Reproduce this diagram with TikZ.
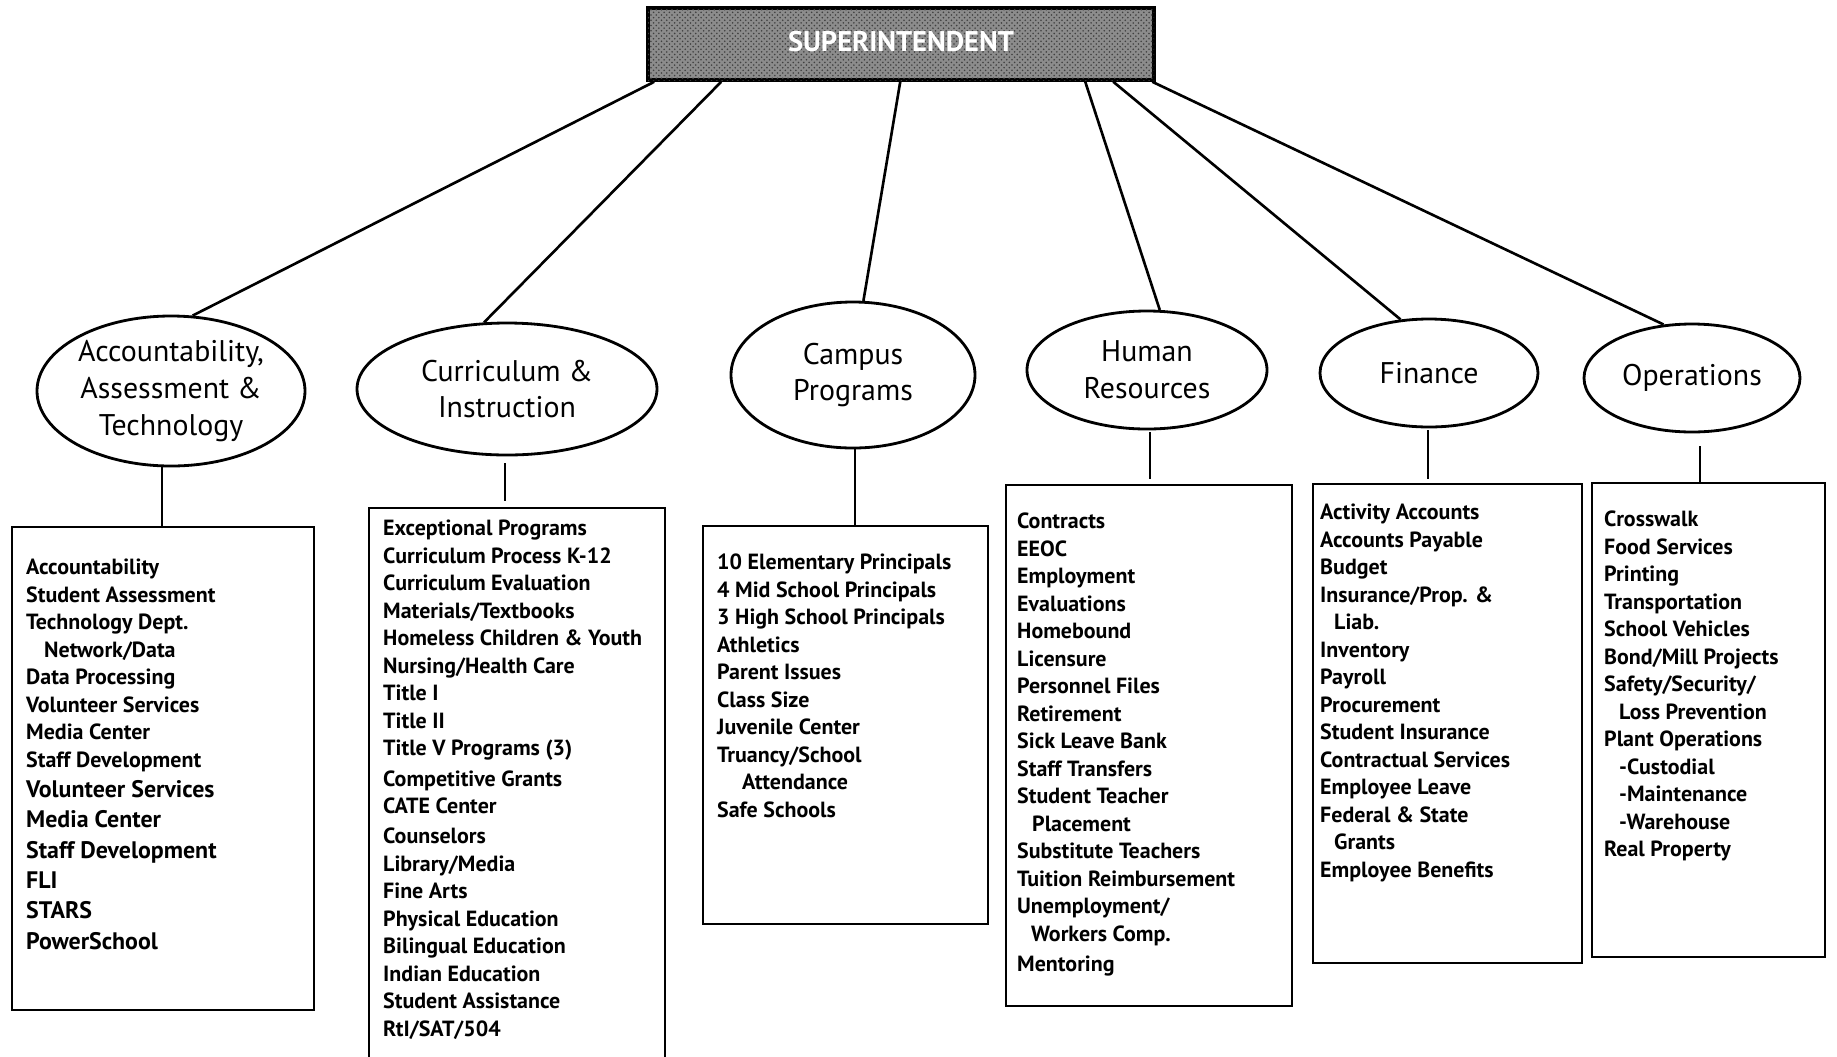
\documentclass[tikz,border=0pt]{standalone}
\usepackage{fontspec}
\setmainfont{PT Sans}
\usetikzlibrary{shapes,calc,positioning,fit,patterns}
\newcommand{\listfont}{\bfseries\fontsize{12.5}{15.65}\selectfont}
\newcommand{\biglist}{\fontsize{13.6}{15.65}\selectfont}
\newcommand{\deptfont}{\fontsize{17}{21}\selectfont}
\newcommand{\headfont}{\bfseries\fontsize{16.2}{18}\selectfont}
\tikzstyle{head}=[rectangle, draw=black, line width=2pt, fill=black!45, postaction={pattern=crosshatch dots, pattern color=black!75}, text=white, font=\headfont]
\tikzstyle{dept}=[ellipse, draw=black, line width=1.6pt, inner sep=0pt, align=center, font=\deptfont]
\tikzstyle{listbox}=[rectangle, draw=black, line width=1.3pt, inner sep=0pt]
\tikzstyle{list text}=[anchor=north west, align=left, inner sep=0pt, font=\listfont]
\tikzstyle{orgedge}=[line width=1.5pt, black]

\begin{document}
\begin{tikzpicture}[x=0.02cm,y=-0.02cm]
\def\px{0.02cm}
\useasboundingbox (0,0) rectangle (1837,1056);

	% Superintendent
    \node[head, minimum width=506*\px, minimum height=72*\px] (Sup) at (901,44) {\raisebox{3pt}{SUPERINTENDENT}};

	% Departments
    \node[dept, minimum width=268*\px, minimum height=150*\px] (D-1) at (171,391) {Accountability,\\Assessment \&\\Technology};
    \node[dept, minimum width=300*\px, minimum height=132*\px] (D-2) at (507,389) {Curriculum \&\\Instruction};
    \node[dept, minimum width=244*\px, minimum height=146*\px] (D-3) at (853,375) {Campus\\Programs};
    \node[dept, minimum width=240*\px, minimum height=118*\px] (D-4) at (1147,370) {Human\\Resources};
    \node[dept, minimum width=218*\px, minimum height=108*\px] (D-5) at (1429,373) {Finance};
    \node[dept, minimum width=216*\px, minimum height=108*\px] (D-6) at (1692,378) {Operations};

	% List boxes
    \node[listbox, fit={(12,527) (314,1010)}] (L-1) {};
    \node[listbox, fit={(369,508) (665,1080)}] (L-2) {};
    \node[listbox, fit={(703,526) (988,924)}] (L-3) {};
    \node[listbox, fit={(1006,485) (1292,1006)}] (L-4) {};
    \node[listbox, fit={(1313,484) (1582,963)}] (L-5) {};
    \node[listbox, fit={(1592,483) (1825,957)}] (L-6) {};

    \node[list text] (T-1) at ($(L-1.north west)+(15,33)$) {Accountability\\Student Assessment\\Technology Dept.\\\hspace*{0.36cm}Network/Data\\Data Processing\\Volunteer Services\\Media Center\\Staff Development\\[1.6pt]
        {\biglist Volunteer Services}\\[1.6pt]{\biglist Media Center}\\[1.6pt]{\biglist Staff Development}\\[1.6pt]{\biglist FLI}\\[1.6pt]{\biglist STARS}\\[1.6pt]{\biglist PowerSchool}};
    \node[list text] (T-2) at ($(L-2.north west)+(15,13)$) {Exceptional Programs\\Curriculum Process K-12\\Curriculum Evaluation\\Materials/Textbooks\\Homeless Children \& Youth\\Nursing/Health Care\\Title I\\Title II\\Title V Programs (3)\\[1.6pt]
        Competitive Grants\\CATE Center\\[1.6pt]Counselors\\Library/Media\\Fine Arts\\Physical Education\\Bilingual Education\\Indian Education\\Student Assistance\\RtI/SAT/504};
    \node[list text] (T-3) at ($(L-3.north west)+(15,29)$) {10 Elementary Principals\\4 Mid School Principals\\3 High School Principals\\Athletics\\Parent Issues\\Class Size\\Juvenile Center\\Truancy/School\\\hspace*{0.5cm}Attendance\\Safe Schools};
    \node[list text] (T-4) at ($(L-4.north west)+(12,29)$) {Contracts\\EEOC\\Employment\\Evaluations\\Homebound\\Licensure\\Personnel Files\\Retirement\\Sick Leave Bank\\Staff Transfers\\Student Teacher\\\hspace*{0.3cm}Placement\\Substitute Teachers\\Tuition Reimbursement\\Unemployment/\\\hspace*{0.28cm}Workers Comp.\\[1.6pt]Mentoring};
    \node[list text] (T-5) at ($(L-5.north west)+(8,21)$) {Activity Accounts\\Accounts Payable\\Budget\\Insurance/Prop. \&\\\hspace*{0.28cm}Liab.\\Inventory\\Payroll\\Procurement\\Student Insurance\\Contractual Services\\Employee Leave\\Federal \& State\\\hspace*{0.28cm}Grants\\Employee Benefits};
    \node[list text] (T-6) at ($(L-6.north west)+(13,29)$) {Crosswalk\\Food Services\\Printing\\Transportation\\School Vehicles\\Bond/Mill Projects\\Safety/Security/\\\hspace*{0.3cm}Loss Prevention\\Plant Operations\\\hspace*{0.3cm}-Custodial\\\hspace*{0.3cm}-Maintenance\\\hspace*{0.3cm}-Warehouse\\Real Property};

	% Superintendent -> departments
    \foreach \i/\dx/\ang in {1/8/74, 2/75/109, 3/254/82, 4/439/78, 5/467/118, 6/506/118}
        \draw[orgedge] ($(Sup.south west)+(\dx,0)$) -- (D-\i.\ang);

	% Departments -> lists
    \foreach \i/\off/\gapa/\gapb in {1/-9/0/0, 2/-2/7/6, 3/2/0/0, 4/3/2/5, 5/-1/2/4, 6/8/13/0} {
        \coordinate (V-\i) at ($(D-\i.south)+(\off,0)$);
        \draw[orgedge, shorten <=\gapa*\px, shorten >=\gapb*\px] (V-\i) -- (V-\i |- L-\i.north);
    }

\end{tikzpicture}
\end{document}
